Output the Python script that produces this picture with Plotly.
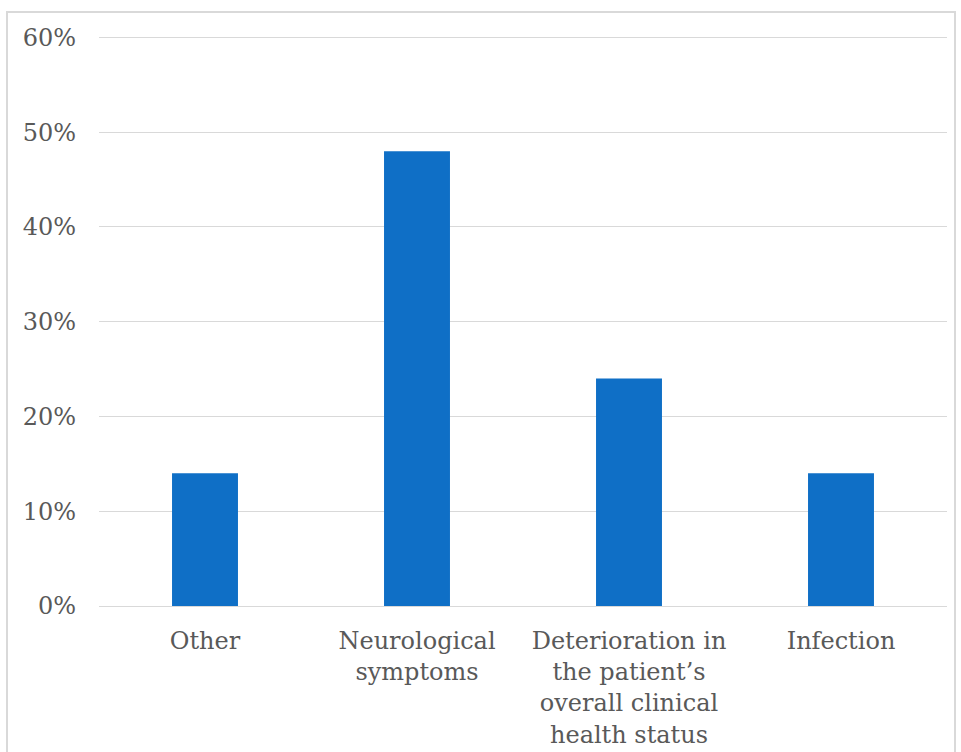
import plotly.graph_objects as go

# Reasons reported, share of responses
categories = ["Other", "Neurological symptoms",
              "Deterioration in the patient\u2019s overall clinical health status",
              "Infection"]
tick_labels = ["Other", "Neurological<br>symptoms",
               "Deterioration in<br>the patient\u2019s<br>overall clinical<br>health status",
               "Infection"]
shares = [0.14, 0.48, 0.24, 0.14]
y_ticks = [0, 0.1, 0.2, 0.3, 0.4, 0.5, 0.6]
y_top = 0.61

W, H = 961, 752
L, R, T, B = 99, 14, 28, 146
pw, ph = W - L - R, H - T - B

font_family = "Georgia, 'DejaVu Serif', serif"
text_color = "#595959"
grid_color = "#d9d9d9"

fig = go.Figure(go.Bar(
    x=categories,
    y=shares,
    marker=dict(color="#0F6FC6", line=dict(width=0)),
    hoverinfo="skip",
))

# Light frame around the chart area
fig.add_shape(
    type="rect", xref="paper", yref="paper",
    x0=(7 - L) / pw, x1=(955 - L) / pw,
    y0=-(H + 10 - T - ph) / ph, y1=(T + ph - 12) / ph,
    line=dict(color=grid_color, width=2), fillcolor="rgba(0,0,0,0)",
    layer="below",
)

fig.update_layout(
    width=W, height=H,
    margin=dict(l=L, r=R, t=T, b=B, pad=0),
    paper_bgcolor="white", plot_bgcolor="white",
    bargap=0.689,
    showlegend=False,
    font=dict(family=font_family, size=24, color=text_color),
    xaxis=dict(
        tickmode="array", tickvals=categories, ticktext=tick_labels,
        showgrid=False, zeroline=False, showline=False, ticks="",
        ticklabelstandoff=18, automargin=False,
        tickfont=dict(size=24, color=text_color),
    ),
    yaxis=dict(
        range=[0, y_top], tickvals=y_ticks, tickformat=".0%",
        showgrid=True, gridcolor=grid_color, gridwidth=1,
        zeroline=True, zerolinecolor=grid_color, zerolinewidth=1,
        showline=False, ticks="", ticklabelstandoff=22, automargin=False,
        tickfont=dict(size=24, color=text_color),
    ),
)

fig.write_html("out.html")
